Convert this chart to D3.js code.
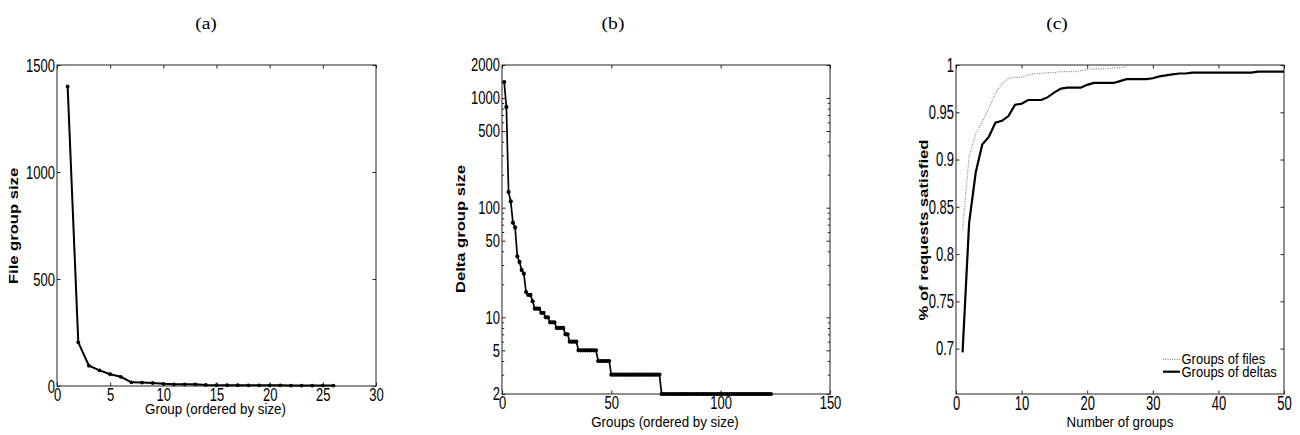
<!DOCTYPE html>
<html><head><meta charset="utf-8">
<script src="https://cdn.jsdelivr.net/npm/d3@7"></script>
<style>
body{margin:0;background:#fff;}
svg text{font-family:"Liberation Sans",Arial,sans-serif;fill:#000;}
</style></head><body>
<svg id="c" width="1300" height="435"></svg>
<script>
// ---------- data ----------
const fileGroupSizes = [1400, 204, 95, 73, 55, 43, 17, 16, 14, 10, 8, 8, 8, 5, 4, 4, 4, 3, 3, 3, 3, 2, 2, 2, 2, 2];
const deltaGroupSizes = [1400, 830, 139, 114, 73, 66, 36, 32, 27, 25, 17, 16, 16, 14, 12, 12, 12, 11, 11, 10,
  10, 9, 9, 9, 8, 8, 8, 8, 7, 7, 6, 6, 6, 6, 5, 5, 5, 5, 5, 5,
  5, 5, 5, 4, 4, 4, 4, 4, 4, 3, 3, 3, 3, 3, 3, 3, 3, 3, 3, 3,
  3, 3, 3, 3, 3, 3, 3, 3, 3, 3, 3, 3, 2, 2, 2, 2, 2, 2, 2, 2,
  2, 2, 2, 2, 2, 2, 2, 2, 2, 2, 2, 2, 2, 2, 2, 2, 2, 2, 2, 2,
  2, 2, 2, 2, 2, 2, 2, 2, 2, 2, 2, 2, 2, 2, 2, 2, 2, 2, 2, 2,
  2, 2, 2];
const satisfiedFiles = [0.826, 0.903, 0.927, 0.940, 0.954, 0.970, 0.980, 0.986, 0.987, 0.987,
  0.9895, 0.991, 0.991, 0.992, 0.992, 0.993, 0.993, 0.993, 0.994, 0.995,
  0.996, 0.996, 0.996, 0.997, 0.997, 0.998];
const satisfiedDeltas = [0.696, 0.833, 0.886, 0.916, 0.924, 0.939, 0.941, 0.946, 0.958, 0.959,
  0.963, 0.963, 0.963, 0.966, 0.971, 0.975, 0.976, 0.976, 0.976, 0.979,
  0.981, 0.981, 0.981, 0.981, 0.983, 0.985, 0.985, 0.985, 0.985, 0.986,
  0.988, 0.989, 0.990, 0.991, 0.991, 0.992, 0.992, 0.992, 0.992, 0.992,
  0.992, 0.992, 0.992, 0.992, 0.992, 0.993, 0.993, 0.993, 0.993, 0.993];

const ticksAX = [0, 5, 10, 15, 20, 25, 30];
const ticksAY = [0, 500, 1000, 1500];
const ticksBX = [0, 50, 100, 150];
const ticksBY = [2, 5, 10, 50, 100, 500, 1000, 2000];
const ticksBYMinor = [3, 4, 6, 7, 8, 9, 20, 30, 40, 60, 70, 80, 90, 200, 300, 400, 600, 700, 800, 900];
const ticksCX = [0, 10, 20, 30, 40, 50];
const ticksCY = [0.7, 0.75, 0.8, 0.85, 0.9, 0.95, 1];
const ticksCYLabels = ["0.7", "0.75", "0.8", "0.85", "0.9", "0.95", "1"];
const legendLabels = ["Groups of files", "Groups of deltas"];
const titles = ["(a)", "(b)", "(c)"];

// ---------- drawing ----------
const svg = d3.select('#c');
const T = 3.5;
const TICK_FONT = 13;

function styleAxis(sel){
  sel.select('.domain').remove();
  sel.selectAll('.tick line').attr('stroke', '#222').attr('stroke-width', 1);
  sel.selectAll('.tick text').attr('font-size', TICK_FONT + 'px').attr('fill', '#000');
}

// stretched horizontal text, anchored at its baseline point
function hText(x, y, str, size, sy, anchor){
  return svg.append('text').attr('transform', `translate(${x},${y}) scale(1,${sy})`)
    .attr('text-anchor', anchor).attr('font-size', size + 'px').text(str);
}

function panel(cfg){
  const w = cfg.right - cfg.left, h = cfg.bottom - cfg.top;
  const g = svg.append('g').attr('transform', `translate(${cfg.left},${cfg.top})`);
  const x = cfg.x.range([0, w]);
  const y = cfg.y.range([h, 0]);
  const s = cfg.tickStretch;
  const bx = g.append('g').attr('transform', `translate(0,${h})`)
    .call(d3.axisBottom(x).tickValues(cfg.xt).tickSizeInner(-T).tickSizeOuter(0).tickPadding(2).tickFormat(d3.format('d')))
    .call(styleAxis);
  bx.selectAll('.tick text').attr('y', 2 / s).attr('transform', `scale(1,${s})`);
  g.append('g')
    .call(d3.axisTop(x).tickValues(cfg.xt).tickSizeInner(-T).tickSizeOuter(0).tickFormat(''))
    .call(styleAxis);
  const ly = g.append('g')
    .call(d3.axisLeft(y).tickValues(cfg.yt).tickSizeInner(-T).tickSizeOuter(0).tickPadding(2).tickFormat(cfg.yf))
    .call(styleAxis);
  ly.selectAll('.tick text').attr('transform', `scale(1,${s})`);
  g.append('g').attr('transform', `translate(${w},0)`)
    .call(d3.axisRight(y).tickValues(cfg.yt).tickSizeInner(-T).tickSizeOuter(0).tickFormat(''))
    .call(styleAxis);
  if (cfg.ytMinor){
    g.append('g').call(d3.axisLeft(y).tickValues(cfg.ytMinor).tickSizeInner(-2.2).tickSizeOuter(0).tickFormat('')).call(styleAxis);
    g.append('g').attr('transform', `translate(${w},0)`).call(d3.axisRight(y).tickValues(cfg.ytMinor).tickSizeInner(-2.2).tickSizeOuter(0).tickFormat('')).call(styleAxis);
  }
  g.append('rect').attr('width', w).attr('height', h).attr('fill', 'none').attr('stroke', '#222').attr('stroke-width', 1);
  // axis labels
  hText(cfg.xlab[1], cfg.xlab[2], cfg.xlab[0], 13.35, 1.15, 'middle');
  svg.append('text').attr('transform', `translate(${cfg.ylab[1]},${cfg.ylab[2]}) rotate(-90) scale(1.23,1)`)
    .attr('text-anchor', 'middle').attr('font-size', '13.5px').attr('font-weight', 'bold').text(cfg.ylab[0]);
  // panel caption
  svg.append('text').attr('transform', `translate(${cfg.title[1]},29) scale(1.15,1)`).attr('text-anchor', 'middle')
    .attr('font-size', '17px').style('font-family', '"Liberation Serif","Times New Roman",serif').text(cfg.title[0]);
  return {g, x, y};
}

// Panel (a)
{
  const p = panel({left: 57, right: 376, top: 65, bottom: 386,
    x: d3.scaleLinear().domain([0, 30]), y: d3.scaleLinear().domain([0, 1500]),
    xt: ticksAX, yt: ticksAY, yf: d3.format('d'), tickStretch: 1.45,
    xlab: ['Group (ordered by size)', 215.5, 414], ylab: ['File group size', 18, 226], title: [titles[0], 206]});
  const line = d3.line().x((d, i) => p.x(i + 1)).y(d => p.y(d));
  p.g.append('path').datum(fileGroupSizes).attr('d', line).attr('fill', 'none').attr('stroke', '#000').attr('stroke-width', 2);
  p.g.selectAll('circle').data(fileGroupSizes).join('circle')
    .attr('cx', (d, i) => p.x(i + 1)).attr('cy', d => p.y(d)).attr('r', 1.9).attr('fill', '#000');
}
// Panel (b)
{
  const p = panel({left: 502, right: 830, top: 65, bottom: 394,
    x: d3.scaleLinear().domain([0, 150]), y: d3.scaleLog().domain([2, 2000]),
    xt: ticksBX, yt: ticksBY, ytMinor: ticksBYMinor, yf: d3.format('d'), tickStretch: 1.4,
    xlab: ['Groups (ordered by size)', 665, 427], ylab: ['Delta group size', 465, 229], title: [titles[1], 613]});
  const line = d3.line().x((d, i) => p.x(i + 1)).y(d => p.y(d));
  p.g.append('path').datum(deltaGroupSizes).attr('d', line).attr('fill', 'none').attr('stroke', '#000').attr('stroke-width', 1.7);
  p.g.selectAll('circle').data(deltaGroupSizes).join('circle')
    .attr('cx', (d, i) => p.x(i + 1)).attr('cy', d => p.y(d)).attr('r', 2.1).attr('fill', '#000');
}
// Panel (c)
{
  const p = panel({left: 956, right: 1284, top: 65, bottom: 394,
    x: d3.scaleLinear().domain([0, 50]), y: d3.scaleLinear().domain([0.652, 1]),
    xt: ticksCX, yt: ticksCY, yf: (d) => ticksCYLabels[ticksCY.indexOf(d)], tickStretch: 1.5,
    xlab: ['Number of groups', 1120, 427], ylab: ['% of requests satisfied', 928, 230], title: [titles[2], 1057]});
  const line = d3.line().x((d, i) => p.x(i + 1)).y(d => p.y(d));
  p.g.append('path').datum(satisfiedFiles).attr('d', line).attr('fill', 'none').attr('stroke', '#8a8a8a').attr('stroke-width', 1.2).attr('stroke-dasharray', '1,1.3');
  p.g.append('path').datum(satisfiedDeltas).attr('d', line).attr('fill', 'none').attr('stroke', '#000').attr('stroke-width', 2.2);
  // legend
  const rows = [{t: legendLabels[0], y: 359.3, dash: true}, {t: legendLabels[1], y: 371.7, dash: false}];
  rows.forEach(r => {
    svg.append('line').attr('x1', 1163).attr('x2', 1180).attr('y1', r.y).attr('y2', r.y)
      .attr('stroke', r.dash ? '#8a8a8a' : '#000').attr('stroke-width', r.dash ? 1.2 : 2.2)
      .attr('stroke-dasharray', r.dash ? '1,1.3' : null);
    hText(1181.5, r.y + 4.8, r.t, 13, 1.12, 'start');
  });
}
</script>
</body></html>
